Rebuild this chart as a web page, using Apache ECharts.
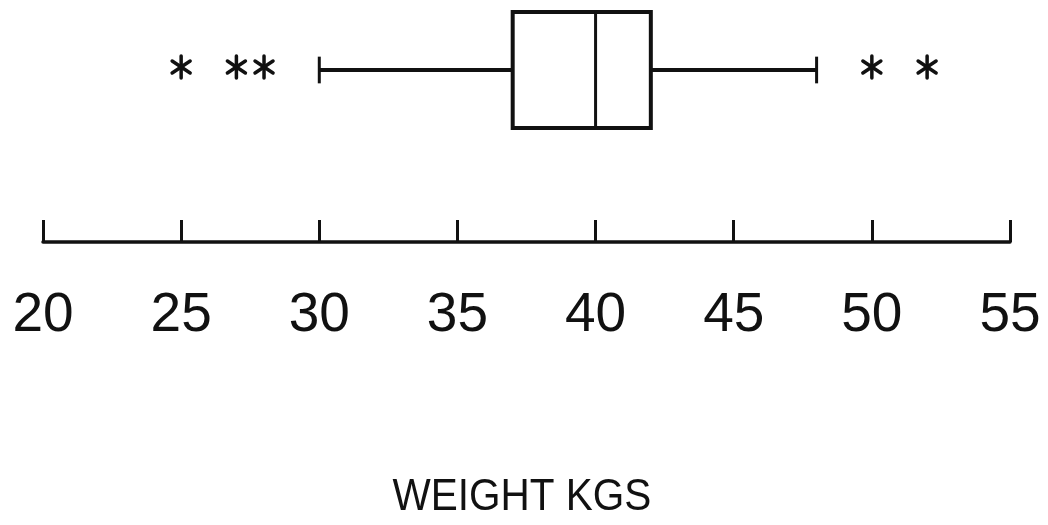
<!DOCTYPE html>
<html>
<head>
<meta charset="utf-8">
<script src="https://cdn.jsdelivr.net/npm/echarts@6/dist/echarts.min.js"></script>
<style>
  html, body { margin: 0; padding: 0; background: #fff; }
  #chart { width: 1048px; height: 525px; }
</style>
</head>
<body>
<div id="chart"></div>
<script>
// Five-number summary of the weights: [lower whisker, Q1, median, Q3, upper whisker]
const boxStats = [30, 37, 40, 42, 48];
// Outlying weights drawn as asterisks
const outliers = [25, 27, 28, 50, 52];
// Axis range and tick spacing
const axisMin = 20;
const axisMax = 55;
const axisStep = 5;
const axisTitle = 'WEIGHT KGS';
const category = ['weight'];

const INK = '#111';
const LW = 4;

const chart = echarts.init(document.getElementById('chart'), null, { renderer: 'canvas' });

function renderBox(params, api) {
  const lo = api.value(0), q1 = api.value(1), med = api.value(2), q3 = api.value(3), hi = api.value(4);
  const band = api.size([0, 1])[1];
  const half = band / 2;
  const cap = band * 0.115;
  const pLo = api.coord([lo, 0]);
  const pQ1 = api.coord([q1, 0]);
  const pMed = api.coord([med, 0]);
  const pQ3 = api.coord([q3, 0]);
  const pHi = api.coord([hi, 0]);
  const y = pQ1[1];
  const style = { stroke: INK, lineWidth: LW, fill: null };
  const thin = { stroke: INK, lineWidth: 3, fill: null };
  return {
    type: 'group',
    children: [
      { type: 'rect', shape: { x: pQ1[0], y: y - half, width: pQ3[0] - pQ1[0], height: band }, style: { stroke: INK, lineWidth: LW, fill: '#fff' } },
      { type: 'line', shape: { x1: pMed[0], y1: y - half, x2: pMed[0], y2: y + half }, style: thin },
      { type: 'line', shape: { x1: pLo[0], y1: y, x2: pQ1[0], y2: y }, style },
      { type: 'line', shape: { x1: pQ3[0], y1: y, x2: pHi[0], y2: y }, style },
      { type: 'line', shape: { x1: pLo[0], y1: y - cap, x2: pLo[0], y2: y + cap }, style: thin },
      { type: 'line', shape: { x1: pHi[0], y1: y - cap, x2: pHi[0], y2: y + cap }, style: thin }
    ]
  };
}

function renderStar(params, api) {
  const p = api.coord([api.value(0), 0]);
  const cx = p[0], cy = p[1] - 3;
  const style = { stroke: INK, lineWidth: 3.5, fill: null, lineCap: 'round' };
  return {
    type: 'group',
    children: [
      { type: 'line', shape: { x1: cx, y1: cy - 11, x2: cx, y2: cy + 11 }, style },
      { type: 'line', shape: { x1: cx - 9, y1: cy - 6, x2: cx + 9, y2: cy + 6 }, style },
      { type: 'line', shape: { x1: cx - 9, y1: cy + 6, x2: cx + 9, y2: cy - 6 }, style }
    ]
  };
}

const option = {
  backgroundColor: '#fff',
  animation: false,
  grid: [
    { left: 43, right: 38, top: 12, height: 116 },
    { left: 43, right: 38, top: 0, height: 242 }
  ],
  xAxis: [
    { gridIndex: 0, type: 'value', min: axisMin, max: axisMax, interval: axisStep, show: false },
    {
      gridIndex: 1, type: 'value', min: axisMin, max: axisMax, interval: axisStep,
      axisLine: { show: true, lineStyle: { color: INK, width: 3.5 } },
      axisTick: { show: true, inside: true, length: 22, lineStyle: { color: INK, width: 3 } },
      axisLabel: { show: true, margin: 46, color: INK, fontFamily: 'Liberation Sans', fontSize: 55 },
      splitLine: { show: false }
    }
  ],
  yAxis: [
    { gridIndex: 0, type: 'category', data: category, show: false },
    { gridIndex: 1, type: 'value', show: false }
  ],
  graphic: [
    {
      type: 'text', x: 522, y: 498,
      scaleX: 0.9, originX: 0, originY: 0,
      style: { text: axisTitle, fill: INK, font: '45px "Liberation Sans"', align: 'center', verticalAlign: 'middle' }
    }
  ],
  series: [
    {
      type: 'custom', xAxisIndex: 0, yAxisIndex: 0,
      renderItem: renderBox,
      data: [boxStats],
      encode: { x: [0, 1, 2, 3, 4] }
    },
    {
      type: 'custom', xAxisIndex: 0, yAxisIndex: 0,
      renderItem: renderStar,
      data: outliers.map(v => [v]),
      encode: { x: 0 }
    }
  ]
};

chart.setOption(option);
</script>
</body>
</html>
